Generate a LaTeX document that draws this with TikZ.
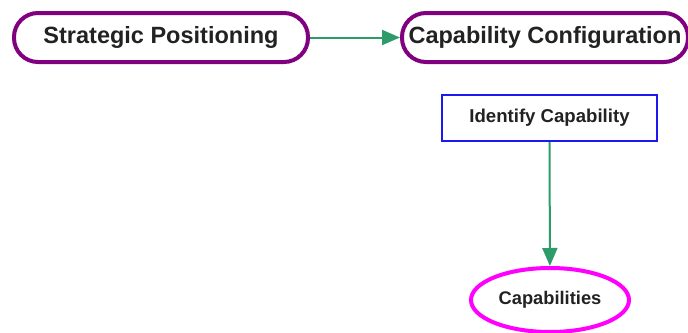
\documentclass[tikz,border=0pt]{standalone}
\usepackage{fontspec}
\setmainfont{Liberation Sans}
\usetikzlibrary{shapes.geometric,arrows.meta}
\definecolor{termline}{HTML}{800080}
\definecolor{taskline}{HTML}{1A1AF0}
\definecolor{resline}{HTML}{FF00FF}
\definecolor{flow}{HTML}{2E9B6B}
\definecolor{ink}{HTML}{222222}
\begin{document}
\begin{tikzpicture}[x=1pt,y=-1pt,
  term/.style={draw=termline,line width=4pt,rounded corners=24pt,fill=white,
    minimum height=49pt,inner sep=0pt,text=ink,font=\bfseries\fontsize{23.5}{26}\selectfont},
  taskbox/.style={draw=taskline,line width=2pt,fill=white,minimum width=215pt,
    minimum height=46pt,inner sep=0pt,text=ink,font=\bfseries\fontsize{18.6}{21}\selectfont},
  resource/.style={ellipse,draw=resline,line width=4pt,fill=white,minimum width=158pt,
    minimum height=64pt,inner sep=0pt,text=ink,font=\bfseries\fontsize{18.3}{21}\selectfont},
  link/.style={draw=flow,line width=2pt,-{Triangle[length=18pt,width=15pt]}}]
\useasboundingbox (0,0) rectangle (688,332);
\node[term,minimum width=294pt] (sp) at (161,37.5) {Strategic Positioning};
\node[term,minimum width=286pt] (cc) at (545,37.5) {Capability Configuration};
\node[taskbox] (ic) at (549.5,118) {Identify Capability};
\node[resource] (cap) at (550,300) {Capabilities};
\draw[link] (sp) -- (cc);
\draw[link] (ic) -- (cap);
\end{tikzpicture}
\end{document}
